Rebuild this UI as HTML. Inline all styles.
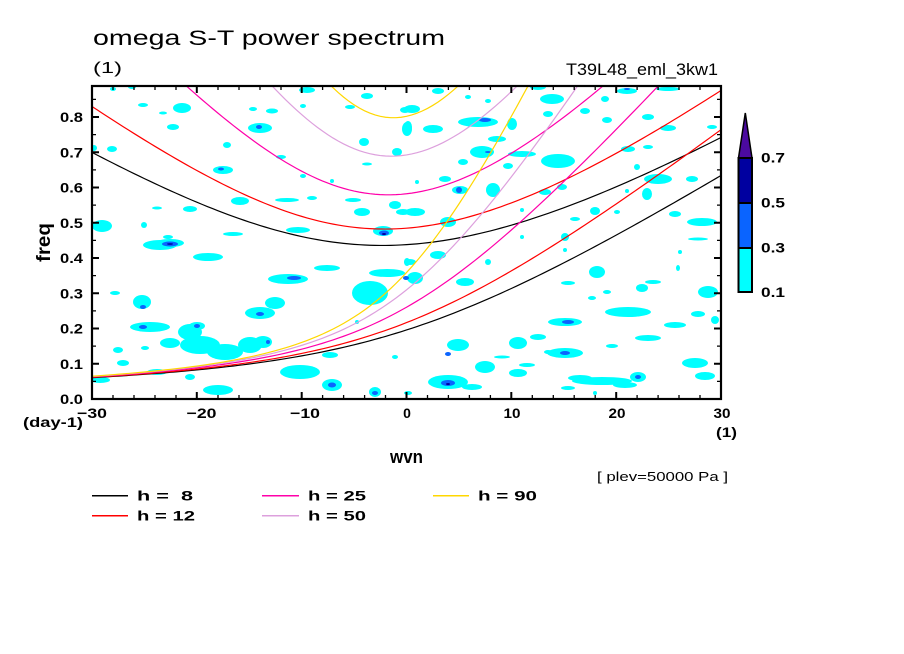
<!DOCTYPE html>
<html><head><meta charset="utf-8"><style>
html,body{margin:0;padding:0;background:#fff;}
svg{display:block;}
text{font-family:"Liberation Sans",sans-serif;fill:#000;}
.b{font-weight:bold;}
</style></head><body>
<svg width="904" height="654" viewBox="0 0 904 654" xmlns="http://www.w3.org/2000/svg">
<defs><clipPath id="pc"><rect x="92" y="86" width="629" height="313"/></clipPath></defs>
<rect width="904" height="654" fill="#fff"/>
<g clip-path="url(#pc)">
<g fill="#00ffff">
<ellipse cx="113" cy="89" rx="3" ry="2"/><ellipse cx="132" cy="87" rx="4" ry="2"/><ellipse cx="143" cy="105" rx="5" ry="2"/>
<ellipse cx="182" cy="108" rx="9" ry="5"/><ellipse cx="163" cy="113" rx="4" ry="1.5"/><ellipse cx="173" cy="127" rx="6" ry="3"/>
<ellipse cx="260" cy="128" rx="12" ry="5"/><ellipse cx="253" cy="109" rx="4" ry="2"/><ellipse cx="272" cy="111" rx="6" ry="2.5"/>
<ellipse cx="227" cy="145" rx="4" ry="3"/><ellipse cx="112" cy="149" rx="5" ry="3"/><ellipse cx="94" cy="148" rx="3" ry="3"/>
<ellipse cx="223" cy="170" rx="10" ry="4"/><ellipse cx="281" cy="157" rx="5" ry="2"/><ellipse cx="303" cy="106" rx="3" ry="2"/>
<ellipse cx="307" cy="90" rx="8" ry="3"/><ellipse cx="367" cy="96" rx="6" ry="3"/><ellipse cx="350" cy="107" rx="5" ry="2"/>
<ellipse cx="405" cy="110" rx="5" ry="3"/><ellipse cx="407" cy="129" rx="5" ry="7"/><ellipse cx="364" cy="142" rx="5" ry="4"/>
<ellipse cx="397" cy="152" rx="5" ry="4"/><ellipse cx="367" cy="164" rx="5" ry="1.5"/><ellipse cx="303" cy="176" rx="3" ry="2"/>
<ellipse cx="332" cy="181" rx="2" ry="2"/><ellipse cx="240" cy="201" rx="9" ry="4"/><ellipse cx="287" cy="200" rx="12" ry="2"/>
<ellipse cx="312" cy="198" rx="5" ry="2"/><ellipse cx="353" cy="200" rx="8" ry="2"/><ellipse cx="362" cy="212" rx="8" ry="4"/>
<ellipse cx="395" cy="205" rx="6" ry="4"/><ellipse cx="403" cy="212" rx="7" ry="3"/><ellipse cx="190" cy="209" rx="7" ry="3"/>
<ellipse cx="157" cy="208" rx="5" ry="1.5"/><ellipse cx="102" cy="226" rx="10" ry="6"/><ellipse cx="144" cy="225" rx="3" ry="3"/>
<ellipse cx="298" cy="230" rx="12" ry="3"/><ellipse cx="233" cy="234" rx="10" ry="2"/><ellipse cx="383" cy="231" rx="10" ry="5"/>
<ellipse cx="170" cy="243" rx="14" ry="4"/><ellipse cx="168" cy="237" rx="5" ry="2"/>
<ellipse cx="160" cy="245" rx="17" ry="5"/><ellipse cx="208" cy="257" rx="15" ry="4"/><ellipse cx="327" cy="268" rx="13" ry="3"/>
<ellipse cx="288" cy="279" rx="20" ry="5"/><ellipse cx="387" cy="273" rx="18" ry="4"/><ellipse cx="370" cy="293" rx="18" ry="12"/>
<ellipse cx="407" cy="262" rx="3" ry="4"/><ellipse cx="142" cy="302" rx="9" ry="7"/><ellipse cx="115" cy="293" rx="5" ry="2"/>
<ellipse cx="260" cy="313" rx="15" ry="6"/><ellipse cx="275" cy="303" rx="10" ry="6"/><ellipse cx="150" cy="327" rx="20" ry="5"/>
<ellipse cx="197" cy="326" rx="8" ry="4"/>
<ellipse cx="190" cy="332" rx="12" ry="8"/><ellipse cx="200" cy="345" rx="20" ry="9"/><ellipse cx="225" cy="352" rx="18" ry="8"/>
<ellipse cx="250" cy="345" rx="12" ry="8"/><ellipse cx="170" cy="343" rx="10" ry="5"/><ellipse cx="263" cy="342" rx="9" ry="6"/>
<ellipse cx="118" cy="350" rx="5" ry="3"/><ellipse cx="145" cy="348" rx="4" ry="2"/><ellipse cx="123" cy="363" rx="6" ry="3"/>
<ellipse cx="157" cy="372" rx="10" ry="3"/><ellipse cx="190" cy="377" rx="5" ry="3"/><ellipse cx="100" cy="380" rx="10" ry="3"/>
<ellipse cx="218" cy="390" rx="15" ry="5"/><ellipse cx="300" cy="372" rx="20" ry="7"/><ellipse cx="332" cy="385" rx="10" ry="6"/>
<ellipse cx="330" cy="355" rx="8" ry="3"/><ellipse cx="375" cy="392" rx="6" ry="5"/><ellipse cx="395" cy="357" rx="3" ry="2"/>
<ellipse cx="357" cy="322" rx="2" ry="2"/>
<ellipse cx="438" cy="91" rx="6" ry="3"/><ellipse cx="468" cy="97" rx="3" ry="2"/><ellipse cx="488" cy="101" rx="3" ry="2"/>
<ellipse cx="538" cy="87" rx="8" ry="3"/><ellipse cx="552" cy="99" rx="12" ry="5"/><ellipse cx="548" cy="114" rx="5" ry="3"/>
<ellipse cx="585" cy="111" rx="5" ry="3"/><ellipse cx="605" cy="99" rx="4" ry="3"/><ellipse cx="627" cy="91" rx="10" ry="3"/>
<ellipse cx="668" cy="89" rx="12" ry="2"/><ellipse cx="412" cy="109" rx="8" ry="4"/><ellipse cx="408" cy="127" rx="4" ry="6"/>
<ellipse cx="433" cy="129" rx="10" ry="4"/><ellipse cx="478" cy="122" rx="20" ry="5"/><ellipse cx="512" cy="124" rx="5" ry="6"/>
<ellipse cx="607" cy="120" rx="5" ry="3"/><ellipse cx="648" cy="117" rx="6" ry="3"/><ellipse cx="668" cy="128" rx="8" ry="3"/>
<ellipse cx="712" cy="127" rx="5" ry="2"/><ellipse cx="497" cy="139" rx="9" ry="3"/><ellipse cx="482" cy="152" rx="12" ry="6"/>
<ellipse cx="463" cy="162" rx="5" ry="3"/><ellipse cx="508" cy="166" rx="5" ry="3"/><ellipse cx="522" cy="154" rx="14" ry="3"/>
<ellipse cx="558" cy="161" rx="17" ry="7"/><ellipse cx="628" cy="149" rx="7" ry="3"/><ellipse cx="648" cy="147" rx="5" ry="2"/>
<ellipse cx="637" cy="167" rx="3" ry="3"/><ellipse cx="445" cy="179" rx="6" ry="3"/><ellipse cx="417" cy="182" rx="2" ry="2"/>
<ellipse cx="460" cy="190" rx="8" ry="4"/><ellipse cx="493" cy="190" rx="7" ry="7"/><ellipse cx="545" cy="192" rx="6" ry="3"/>
<ellipse cx="562" cy="187" rx="5" ry="3"/><ellipse cx="658" cy="179" rx="14" ry="5"/><ellipse cx="692" cy="179" rx="6" ry="3"/>
<ellipse cx="647" cy="194" rx="5" ry="6"/><ellipse cx="627" cy="191" rx="2" ry="2"/><ellipse cx="415" cy="212" rx="10" ry="4"/>
<ellipse cx="448" cy="222" rx="8" ry="5"/><ellipse cx="522" cy="210" rx="2" ry="2"/><ellipse cx="595" cy="211" rx="5" ry="4"/>
<ellipse cx="617" cy="212" rx="3" ry="2"/><ellipse cx="575" cy="219" rx="5" ry="2"/><ellipse cx="675" cy="214" rx="6" ry="3"/>
<ellipse cx="702" cy="222" rx="15" ry="4"/><ellipse cx="565" cy="237" rx="4" ry="4"/><ellipse cx="522" cy="237" rx="2" ry="2"/>
<ellipse cx="698" cy="239" rx="10" ry="1.5"/>
<ellipse cx="438" cy="255" rx="8" ry="4"/><ellipse cx="410" cy="262" rx="6" ry="3"/><ellipse cx="415" cy="278" rx="8" ry="6"/>
<ellipse cx="465" cy="282" rx="9" ry="4"/><ellipse cx="488" cy="262" rx="3" ry="3"/><ellipse cx="565" cy="250" rx="2" ry="2"/>
<ellipse cx="597" cy="272" rx="8" ry="6"/><ellipse cx="568" cy="283" rx="7" ry="2"/><ellipse cx="607" cy="292" rx="4" ry="2"/>
<ellipse cx="642" cy="288" rx="6" ry="4"/><ellipse cx="653" cy="282" rx="8" ry="2"/><ellipse cx="592" cy="298" rx="4" ry="2"/>
<ellipse cx="678" cy="268" rx="2" ry="3"/><ellipse cx="680" cy="252" rx="2" ry="2"/><ellipse cx="708" cy="292" rx="10" ry="6"/>
<ellipse cx="628" cy="312" rx="23" ry="5"/><ellipse cx="698" cy="314" rx="7" ry="3"/><ellipse cx="715" cy="320" rx="4" ry="4"/>
<ellipse cx="565" cy="322" rx="17" ry="4"/><ellipse cx="675" cy="325" rx="11" ry="3"/><ellipse cx="648" cy="338" rx="13" ry="3"/>
<ellipse cx="538" cy="337" rx="8" ry="3"/><ellipse cx="518" cy="343" rx="9" ry="6"/><ellipse cx="458" cy="345" rx="11" ry="6"/>
<ellipse cx="565" cy="353" rx="18" ry="5"/><ellipse cx="548" cy="352" rx="4" ry="2"/><ellipse cx="502" cy="357" rx="8" ry="1.5"/>
<ellipse cx="612" cy="346" rx="6" ry="2"/><ellipse cx="695" cy="363" rx="13" ry="5"/><ellipse cx="485" cy="367" rx="10" ry="6"/>
<ellipse cx="527" cy="365" rx="8" ry="2"/><ellipse cx="518" cy="373" rx="9" ry="4"/><ellipse cx="448" cy="382" rx="20" ry="7"/>
<ellipse cx="472" cy="387" rx="10" ry="3"/><ellipse cx="602" cy="381" rx="30" ry="4"/><ellipse cx="580" cy="378" rx="12" ry="3"/>
<ellipse cx="625" cy="385" rx="12" ry="3"/><ellipse cx="638" cy="377" rx="8" ry="5"/><ellipse cx="705" cy="376" rx="10" ry="4"/>
<ellipse cx="568" cy="388" rx="7" ry="2"/><ellipse cx="408" cy="393" rx="4" ry="2"/><ellipse cx="595" cy="393" rx="2" ry="2"/>
</g>
<g fill="#0a64ff">
<ellipse cx="259" cy="127" rx="3" ry="2"/><ellipse cx="221" cy="169" rx="3" ry="1.5"/><ellipse cx="384" cy="233" rx="5" ry="2.5"/>
<ellipse cx="170" cy="244" rx="8" ry="2.5"/><ellipse cx="294" cy="278" rx="7" ry="2"/><ellipse cx="143" cy="307" rx="3" ry="2"/>
<ellipse cx="260" cy="314" rx="4" ry="2"/><ellipse cx="143" cy="327" rx="4" ry="2"/><ellipse cx="197" cy="326" rx="3" ry="2"/>
<ellipse cx="268" cy="342" rx="2" ry="2"/><ellipse cx="332" cy="385" rx="4" ry="2.5"/><ellipse cx="375" cy="393" rx="3" ry="2"/>
<ellipse cx="627" cy="89" rx="3" ry="1"/><ellipse cx="485" cy="120" rx="6" ry="2"/><ellipse cx="488" cy="152" rx="3" ry="1"/>
<ellipse cx="459" cy="190" rx="3" ry="3"/><ellipse cx="406" cy="278" rx="3" ry="2"/><ellipse cx="568" cy="322" rx="6" ry="2"/>
<ellipse cx="448" cy="354" rx="3" ry="2"/><ellipse cx="565" cy="353" rx="5" ry="2"/><ellipse cx="448" cy="383" rx="7" ry="3"/>
<ellipse cx="638" cy="377" rx="3" ry="2"/>
</g>
<g fill="#0000a0">
<ellipse cx="384" cy="234" rx="2" ry="1"/><ellipse cx="448" cy="384" rx="2" ry="1"/><ellipse cx="170" cy="244" rx="3" ry="0.8"/>
</g>
<g fill="none" stroke-width="1.2">
<path id="c8a" stroke="#000000"/><path id="c8b" stroke="#000000"/>
<path id="c12a" stroke="#ff0000"/><path id="c12b" stroke="#ff0000"/>
<path id="c25a" stroke="#ff00aa"/><path id="c25b" stroke="#ff00aa"/>
<path id="c50a" stroke="#dda0dd"/><path id="c50b" stroke="#dda0dd"/>
<path id="c90a" stroke="#ffd700"/><path id="c90b" stroke="#ffd700"/>
</g>
</g>
<script>
(function(){
var g=9.81,a=6.371e6,Om=7.292e-5,beta=2*Om/a,C=86400/(2*Math.PI);
function X(k){return 92+(k+30)*629/60;}
function Y(f){return 399-f*352.5;}
[8,12,25,50,90].forEach(function(h){
 var c=Math.sqrt(g*h),K1=c/a*C,B=beta*c*C*C,p0=[],p2=[];
 for(var k=-30;k<=30.0001;k+=0.5){
  var K=K1*k;
  var w0=K/2+Math.sqrt(K*K/4+B);
  var s=K*K+5*B,w=Math.sqrt(s)+0.5;
  for(var i=0;i<60;i++){var f=w*w*w-s*w-K*B,d=3*w*w-s;w-=f/d;}
  p0.push(X(k).toFixed(2)+','+Y(w0).toFixed(2));
  p2.push(X(k).toFixed(2)+','+Y(w).toFixed(2));
 }
 document.getElementById('c'+h+'a').setAttribute('d','M'+p0.join('L'));
 document.getElementById('c'+h+'b').setAttribute('d','M'+p2.join('L'));
});
})();
</script>
<rect x="92" y="86" width="629" height="313" fill="none" stroke="#000" stroke-width="2.2"/>
<g stroke="#000" stroke-width="2">
<path d="M92 399v-7M196.8 399v-7M301.7 399v-7M406.5 399v-7M511.3 399v-7M616.2 399v-7M721 399v-7"/>
<path d="M92 86v7M196.8 86v7M301.7 86v7M406.5 86v7M511.3 86v7M616.2 86v7M721 86v7"/>
<path d="M92 399h7M92 363.75h7M92 328.5h7M92 293.25h7M92 258h7M92 222.75h7M92 187.5h7M92 152.25h7M92 117h7"/>
<path d="M721 399h-7M721 363.75h-7M721 328.5h-7M721 293.25h-7M721 258h-7M721 222.75h-7M721 187.5h-7M721 152.25h-7M721 117h-7"/>
</g>
<g stroke="#000" stroke-width="1.3">
<path d="M113 399v-4M134 399v-4M155 399v-4M176 399v-4M218 399v-4M239 399v-4M260 399v-4M281 399v-4M322.6 399v-4M343.6 399v-4M364.6 399v-4M385.5 399v-4M427.5 399v-4M448.4 399v-4M469.4 399v-4M490.4 399v-4M532.3 399v-4M553.3 399v-4M574.2 399v-4M595.2 399v-4M637.1 399v-4M658.1 399v-4M679 399v-4M700 399v-4"/>
<path d="M113 86v4M134 86v4M155 86v4M176 86v4M218 86v4M239 86v4M260 86v4M281 86v4M322.6 86v4M343.6 86v4M364.6 86v4M385.5 86v4M427.5 86v4M448.4 86v4M469.4 86v4M490.4 86v4M532.3 86v4M553.3 86v4M574.2 86v4M595.2 86v4M637.1 86v4M658.1 86v4M679 86v4M700 86v4"/>
<path d="M92 381.4h4M92 346.1h4M92 310.9h4M92 275.6h4M92 240.4h4M92 205.1h4M92 169.9h4M92 134.6h4M92 99.4h4"/>
<path d="M721 381.4h-4M721 346.1h-4M721 310.9h-4M721 275.6h-4M721 240.4h-4M721 205.1h-4M721 169.9h-4M721 134.6h-4M721 99.4h-4"/>
</g>
<text x="93" y="45" font-size="21" textLength="352" lengthAdjust="spacingAndGlyphs">omega S-T power spectrum</text>
<text x="93" y="73" font-size="16" textLength="29" lengthAdjust="spacingAndGlyphs">(1)</text>
<text x="566" y="75" font-size="16.5" textLength="152" lengthAdjust="spacingAndGlyphs">T39L48_eml_3kw1</text>
<g class="b" font-size="14" text-anchor="end">
<text x="83" y="404" textLength="23" lengthAdjust="spacingAndGlyphs">0.0</text>
<text x="83" y="368.8" textLength="23" lengthAdjust="spacingAndGlyphs">0.1</text>
<text x="83" y="333.5" textLength="23" lengthAdjust="spacingAndGlyphs">0.2</text>
<text x="83" y="298.3" textLength="23" lengthAdjust="spacingAndGlyphs">0.3</text>
<text x="83" y="263" textLength="23" lengthAdjust="spacingAndGlyphs">0.4</text>
<text x="83" y="227.8" textLength="23" lengthAdjust="spacingAndGlyphs">0.5</text>
<text x="83" y="192.5" textLength="23" lengthAdjust="spacingAndGlyphs">0.6</text>
<text x="83" y="157.3" textLength="23" lengthAdjust="spacingAndGlyphs">0.7</text>
<text x="83" y="122" textLength="23" lengthAdjust="spacingAndGlyphs">0.8</text>
</g>
<g class="b" font-size="14" text-anchor="middle">
<text x="92" y="418" textLength="30" lengthAdjust="spacingAndGlyphs">−30</text>
<text x="201.5" y="418" textLength="30" lengthAdjust="spacingAndGlyphs">−20</text>
<text x="305" y="418" textLength="30" lengthAdjust="spacingAndGlyphs">−10</text>
<text x="407" y="418">0</text>
<text x="512" y="418" textLength="17" lengthAdjust="spacingAndGlyphs">10</text>
<text x="617" y="418" textLength="17" lengthAdjust="spacingAndGlyphs">20</text>
<text x="722" y="418" textLength="17" lengthAdjust="spacingAndGlyphs">30</text>
</g>
<text class="b" x="23" y="427" font-size="14" textLength="60" lengthAdjust="spacingAndGlyphs">(day-1)</text>
<text class="b" x="716" y="437" font-size="14" textLength="21" lengthAdjust="spacingAndGlyphs">(1)</text>
<text class="b" x="390" y="463" font-size="18" textLength="33" lengthAdjust="spacingAndGlyphs">wvn</text>
<text class="b" font-size="19" transform="translate(50,262) rotate(-90)" textLength="39" lengthAdjust="spacingAndGlyphs">freq</text>
<text x="597" y="481" font-size="13" textLength="131" lengthAdjust="spacingAndGlyphs">[ plev=50000 Pa ]</text>
<g stroke-width="1.5">
<line x1="92" y1="495.7" x2="128" y2="495.7" stroke="#000"/>
<line x1="92" y1="515.7" x2="128" y2="515.7" stroke="#ff0000"/>
<line x1="262" y1="495.7" x2="299" y2="495.7" stroke="#ff00aa"/>
<line x1="262" y1="515.7" x2="299" y2="515.7" stroke="#dda0dd"/>
<line x1="433" y1="495.7" x2="469" y2="495.7" stroke="#ffd700"/>
</g>
<g class="b" font-size="14">
<text x="137" y="500.5" textLength="56" lengthAdjust="spacingAndGlyphs" xml:space="preserve">h =  8</text>
<text x="137" y="520.5" textLength="58" lengthAdjust="spacingAndGlyphs">h = 12</text>
<text x="308" y="500.5" textLength="58" lengthAdjust="spacingAndGlyphs">h = 25</text>
<text x="308" y="520.5" textLength="58" lengthAdjust="spacingAndGlyphs">h = 50</text>
<text x="478" y="500.5" textLength="59" lengthAdjust="spacingAndGlyphs">h = 90</text>
</g>
<rect x="738.5" y="248" width="13.5" height="44" fill="#00ffff"/>
<rect x="738.5" y="203" width="13.5" height="45" fill="#0a64ff"/>
<rect x="738.5" y="158" width="13.5" height="45" fill="#0000a0"/>
<polygon points="738.5,158 752,158 745.3,113" fill="#4b0aa0" stroke="#000" stroke-width="1.5"/>
<rect x="738.5" y="158" width="13.5" height="134" fill="none" stroke="#000" stroke-width="2"/>
<g stroke="#000" stroke-width="2"><line x1="738.5" y1="203" x2="752" y2="203"/><line x1="738.5" y1="248" x2="752" y2="248"/></g>
<g class="b" font-size="14">
<text x="761" y="162.5" textLength="24" lengthAdjust="spacingAndGlyphs">0.7</text>
<text x="761" y="207.5" textLength="24" lengthAdjust="spacingAndGlyphs">0.5</text>
<text x="761" y="252.5" textLength="24" lengthAdjust="spacingAndGlyphs">0.3</text>
<text x="761" y="297" textLength="24" lengthAdjust="spacingAndGlyphs">0.1</text>
</g>
</svg>
</body></html>
